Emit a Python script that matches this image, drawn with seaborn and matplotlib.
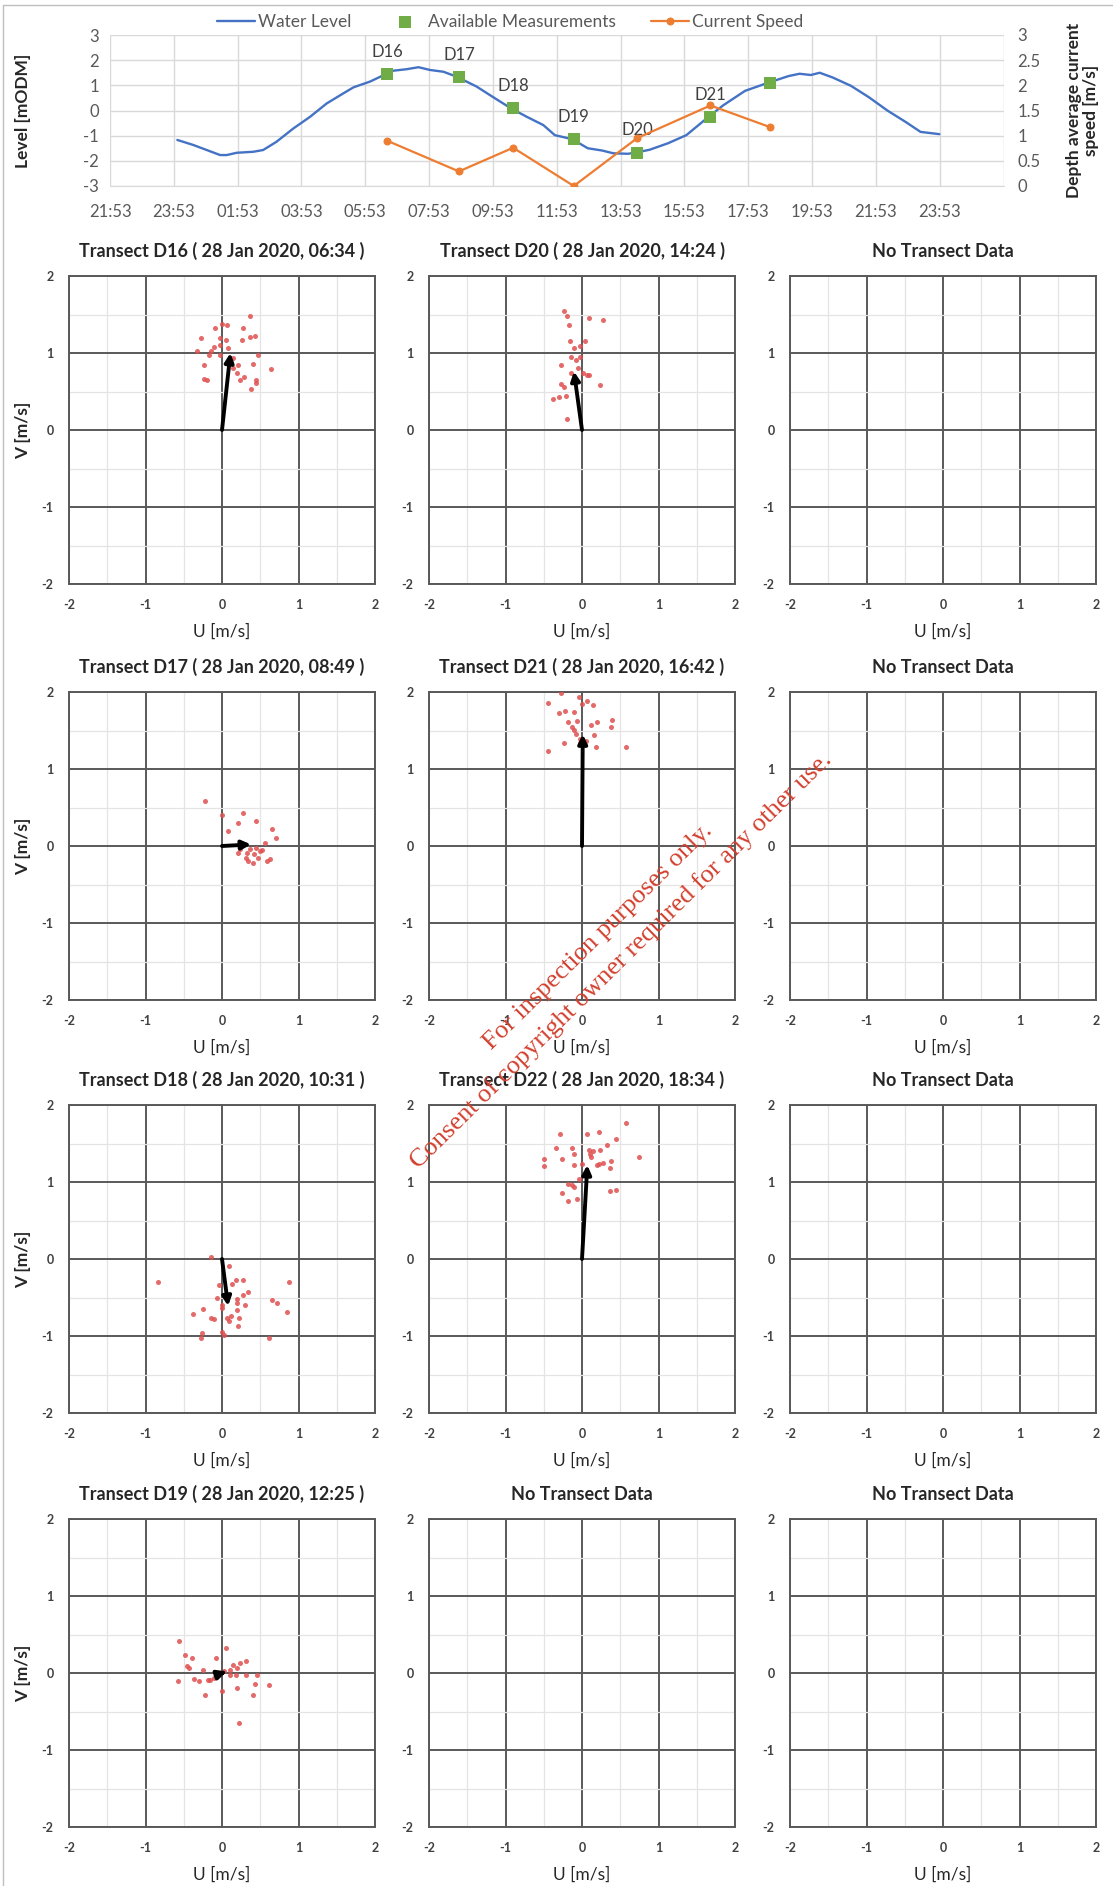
import numpy as np
import pandas as pd
import matplotlib
matplotlib.use("Agg")
import matplotlib.pyplot as plt
import seaborn as sns
from matplotlib.ticker import MultipleLocator, FuncFormatter
from matplotlib.lines import Line2D

# ---- top chart data (hours after 21:53 on 27 Jan 2020) ----
time_labels = ["21:53", "23:53", "01:53", "03:53", "05:53", "07:53", "09:53",
               "11:53", "13:53", "15:53", "17:53", "19:53", "21:53", "23:53"]

wl_hours = [2.11, 2.61, 3.03, 3.45, 3.66, 3.97, 4.49, 4.80, 5.22, 5.75, 6.27, 6.79,
            7.31, 7.63, 8.15, 8.65, 8.87, 9.29, 9.67, 10.03, 10.45, 10.87, 11.49,
            12.02, 12.56, 13.06, 13.58, 13.94, 14.49, 14.97, 15.42, 15.77, 16.23,
            16.48, 16.91, 17.49, 18.06, 18.75, 19.21, 19.90, 20.64, 21.27, 21.61,
            21.96, 22.24, 22.65, 23.22, 23.79, 24.36, 24.94, 25.40, 25.99]
wl_level = [-1.17, -1.37, -1.57, -1.77, -1.77, -1.68, -1.64, -1.57, -1.24, -0.71,
            -0.25, 0.28, 0.68, 0.92, 1.15, 1.45, 1.58, 1.64, 1.72, 1.61, 1.54, 1.34,
            0.95, 0.52, 0.09, -0.25, -0.58, -0.98, -1.14, -1.50, -1.59, -1.70, -1.72,
            -1.67, -1.56, -1.30, -0.98, -0.26, 0.20, 0.78, 1.11, 1.37, 1.46, 1.41,
            1.50, 1.31, 0.98, 0.52, 0.00, -0.46, -0.85, -0.94]

meas_names = ["D16", "D17", "D18", "D19", "D20", "D21", "D22"]
meas_times = ["06:34", "08:49", "10:31", "12:25", "14:24", "16:42", "18:34"]
meas_level = [1.45, 1.34, 0.09, -1.14, -1.67, -0.26, 1.11]
meas_speed = [0.90, 0.29, 0.76, 0.00, 0.95, 1.60, 1.17]
labelled = ["D16", "D17", "D18", "D19", "D20", "D21"]

# ---- transect velocity samples ----
d16_u = [0.365, -0.09, 0.0, 0.07, 0.27, -0.28, -0.03, 0.05, 0.26, 0.37, 0.43, -0.02,
         -0.11, 0.08, -0.33, -0.14, -0.17, -0.02, 0.47, 0.15, -0.23, 0.21, 0.41, 0.14,
         0.64, 0.20, 0.29, 0.23, -0.23, -0.19, 0.45, 0.44, 0.38]
d16_v = [1.48, 1.33, 1.38, 1.36, 1.32, 1.20, 1.19, 1.17, 1.17, 1.21, 1.22, 1.10,
         1.08, 1.07, 1.03, 1.03, 0.98, 0.98, 0.98, 0.93, 0.85, 0.85, 0.86, 0.81,
         0.79, 0.74, 0.69, 0.65, 0.66, 0.65, 0.65, 0.61, 0.53]

d17_u = [-0.22, 0.0, 0.27, 0.21, 0.45, 0.08, 0.66, 0.70, 0.56, 0.24, 0.37, 0.45,
         0.52, 0.21, 0.33, 0.42, 0.50, 0.32, 0.47, 0.34, 0.59, 0.63, 0.40]
d17_v = [0.59, 0.40, 0.43, 0.30, 0.33, 0.19, 0.22, 0.11, 0.04, -0.04, -0.04, -0.02,
         -0.05, -0.09, -0.09, -0.10, -0.07, -0.15, -0.15, -0.19, -0.19, -0.17, -0.22]

d18_u = [-0.15, -0.84, 0.09, 0.18, 0.27, 0.13, -0.04, 0.88, 0.34, 0.28, -0.07, 0.20,
         0.20, 0.66, 0.72, 0.30, 0.0, 0.0, -0.25, 0.20, 0.85, -0.38, 0.12, -0.15,
         -0.11, 0.07, 0.22, 0.09, 0.21, -0.26, 0.0, 0.02, -0.28, 0.62]
d18_v = [0.03, -0.30, -0.09, -0.27, -0.27, -0.32, -0.34, -0.30, -0.43, -0.47, -0.51,
         -0.52, -0.57, -0.53, -0.57, -0.60, -0.60, -0.64, -0.65, -0.66, -0.69, -0.72,
         -0.74, -0.76, -0.78, -0.77, -0.77, -0.80, -0.87, -0.96, -0.95, -0.99, -1.02,
         -1.03]

d19_u = [-0.56, 0.05, -0.48, -0.39, -0.08, 0.32, 0.24, 0.15, -0.46, -0.43, -0.25,
         0.10, 0.19, 0.03, 0.10, 0.18, 0.32, 0.46, -0.05, -0.11, -0.37, -0.16, -0.18,
         -0.30, -0.58, 0.43, 0.61, 0.19, 0.0, -0.22, 0.41, 0.22]
d19_v = [0.41, 0.33, 0.24, 0.19, 0.19, 0.15, 0.13, 0.11, 0.09, 0.07, 0.04, 0.04,
         0.07, 0.03, -0.03, -0.03, -0.02, -0.02, -0.03, -0.06, -0.08, -0.09, -0.09,
         -0.11, -0.11, -0.14, -0.16, -0.19, -0.23, -0.29, -0.28, -0.65]

d20_u = [-0.24, -0.19, 0.09, 0.28, -0.17, -0.16, 0.04, -0.02, -0.11, -0.15, -0.02,
         -0.08, -0.27, -0.05, -0.15, 0.01, 0.07, 0.09, -0.28, 0.23, -0.24, -0.21,
         -0.30, -0.38, -0.19]
d20_v = [1.54, 1.48, 1.45, 1.43, 1.37, 1.16, 1.16, 1.09, 1.06, 0.95, 0.95, 0.91,
         0.85, 0.80, 0.74, 0.74, 0.71, 0.71, 0.60, 0.58, 0.56, 0.44, 0.43, 0.40, 0.14]

d21_u = [-0.28, -0.04, -0.44, 0.07, 0.0, 0.14, -0.30, -0.22, -0.11, -0.18, -0.07,
         0.20, 0.39, 0.12, -0.13, 0.38, -0.10, -0.08, 0.16, -0.02, 0.05, -0.24,
         -0.02, -0.44, 0.18, 0.57]
d21_v = [1.99, 1.93, 1.86, 1.88, 1.84, 1.83, 1.73, 1.75, 1.74, 1.61, 1.62, 1.61,
         1.63, 1.57, 1.55, 1.55, 1.51, 1.46, 1.44, 1.39, 1.37, 1.34, 1.34, 1.23,
         1.29, 1.29]

d22_u = [0.57, -0.29, 0.07, 0.22, 0.45, -0.34, -0.13, 0.33, -0.11, 0.09, 0.15, 0.24,
         0.11, -0.50, -0.26, 0.12, 0.74, 0.38, 0.27, -0.50, -0.10, 0.0, 0.19, 0.22,
         0.36, -0.04, -0.18, -0.13, -0.11, 0.36, 0.44, -0.26, -0.07, -0.18]
d22_v = [1.77, 1.62, 1.62, 1.65, 1.56, 1.44, 1.44, 1.48, 1.37, 1.42, 1.40, 1.41,
         1.36, 1.30, 1.30, 1.32, 1.33, 1.27, 1.25, 1.21, 1.22, 1.23, 1.22, 1.23,
         1.18, 1.04, 0.97, 0.96, 0.93, 0.88, 0.90, 0.86, 0.78, 0.75]

# depth averaged vectors (D16 .. D22)
mean_u = [0.11, 0.38, 0.08, 0.06, -0.105, 0.01, 0.07]
mean_v = [1.00, 0.02, -0.61, 0.02, 0.76, 1.45, 1.22]

samples = {"D16": (d16_u, d16_v), "D17": (d17_u, d17_v), "D18": (d18_u, d18_v),
           "D19": (d19_u, d19_v), "D20": (d20_u, d20_v), "D21": (d21_u, d21_v),
           "D22": (d22_u, d22_v)}

# panel layout: rows x cols, None = no transect
grid_names = [["D16", "D20", None],
              ["D17", "D21", None],
              ["D18", "D22", None],
              ["D19", None, None]]


def to_hours(t):
    h, m = map(int, t.split(":"))
    return ((h * 60 + m) - (21 * 60 + 53)) % 1440 / 60.0


meas_hours = [to_hours(t) for t in meas_times]

sns.set_style("white")
plt.rcParams["font.family"] = ["Lato", "DejaVu Sans"]
plt.rcParams["axes.unicode_minus"] = False

W, H = 1113, 1886
fig = plt.figure(figsize=(W / 100, H / 100), dpi=100)

blue, green, orange = "#4472C4", "#70AD47", "#ED7D31"
tick_gray = "#595959"

# ---------------- top chart ----------------
ax = fig.add_axes([110 / W, 1 - 186 / H, (1003.5 - 110) / W, 151 / H])
sns.lineplot(x=wl_hours, y=wl_level, ax=ax, color=blue, lw=1.7, label="Water Level")
sns.scatterplot(x=meas_hours, y=meas_level, ax=ax, marker="s", color=green, s=70,
                linewidth=0, label="Available Measurements", zorder=5)
for name, h, lv in zip(meas_names, meas_hours, meas_level):
    if name in labelled:
        ax.annotate(name, (h, lv), xytext=(0, 16), textcoords="offset points",
                    ha="center", va="center", fontsize=12, color="#404040")
ax.set_xlim(0, 28)
ax.set_ylim(-3, 3)
ax.set_xticks(range(0, 29, 2))
ax.set_xticklabels(time_labels + [""])
ax.set_yticks(range(-3, 4))
ax.grid(True, color="#d9d9d9", lw=1)
ax.tick_params(axis="y", length=0, labelsize=12, colors=tick_gray, pad=8)
ax.tick_params(axis="x", length=0, labelsize=12, colors=tick_gray, pad=13)
for s in ["top", "left", "right"]:
    ax.spines[s].set_visible(False)
ax.spines["bottom"].set_color("#d9d9d9")
ax.set_ylabel("Level [mODM]", fontsize=12.5, fontweight="bold")
ax.yaxis.set_label_coords((31 - 110) / 893.5, 0.5)

ax2 = ax.twinx()
sns.lineplot(x=meas_hours, y=meas_speed, ax=ax2, color=orange, lw=1.6, marker="o",
             markersize=5, markeredgecolor=orange, label="Current Speed")
ax2.set_ylim(0, 3)
ax2.set_yticks(np.arange(0, 3.01, 0.5))
ax2.yaxis.set_major_formatter(FuncFormatter(lambda v, p: f"{v:g}"))
ax2.tick_params(length=0, labelsize=12, colors=tick_gray, pad=10)
for s in ["top", "left", "right", "bottom"]:
    ax2.spines[s].set_visible(False)
ax2.grid(False)
ax2.set_ylabel("Depth average current\nspeed [m/s]", fontsize=12.5, fontweight="bold",
               linespacing=1.05)
ax2.yaxis.set_label_coords(1 + (1066 - 1003.5) / 893.5, 0.5)

h1, l1 = ax.get_legend_handles_labels()
h2, l2 = ax2.get_legend_handles_labels()
ax.legend_.remove()
ax2.legend_.remove()
fig.legend(h1 + h2, l1 + l2, loc="center", bbox_to_anchor=(510 / W, 1 - 22 / H),
           ncol=3, frameon=False, fontsize=12.5, labelcolor=tick_gray,
           handlelength=2.2, handletextpad=0.2, columnspacing=2.0)

# ---------------- transect panels ----------------
col_left = [69, 429, 790]
row_top = [276, 692, 1105, 1519]
pw, ph = 306, 308
dark = "#595959"

for r, row in enumerate(grid_names):
    for c, name in enumerate(row):
        pax = fig.add_axes([col_left[c] / W, 1 - (row_top[r] + ph) / H, pw / W, ph / H])
        pax.set_xlim(-2, 2)
        pax.set_ylim(-2, 2)
        pax.xaxis.set_major_locator(MultipleLocator(1))
        pax.yaxis.set_major_locator(MultipleLocator(1))
        pax.xaxis.set_minor_locator(MultipleLocator(0.5))
        pax.yaxis.set_minor_locator(MultipleLocator(0.5))
        pax.grid(which="minor", color="#e4e4e4", lw=0.9)
        pax.grid(which="major", color=dark, lw=1.4)
        pax.set_axisbelow(True)
        for s in pax.spines.values():
            s.set_color(dark)
            s.set_linewidth(1.4)
        pax.tick_params(which="major", length=4, color=dark, labelsize=9,
                        labelcolor="#404040", pad=7)
        pax.tick_params(which="minor", length=0)
        for lab in pax.get_xticklabels() + pax.get_yticklabels():
            lab.set_fontweight("bold")

        if name is None:
            title = "No Transect Data"
        else:
            i = meas_names.index(name)
            title = f"Transect {name} ( 28 Jan 2020, {meas_times[i]} )"
            u, v = samples[name]
            df = pd.DataFrame({"u": u, "v": v})
            sns.scatterplot(data=df, x="u", y="v", ax=pax, color="#e05050", s=13,
                            linewidth=0, alpha=0.85, zorder=3)
            pax.annotate("", xy=(mean_u[i], mean_v[i]), xytext=(0, 0),
                         arrowprops=dict(arrowstyle="-|>", color="black", lw=2.8,
                                         mutation_scale=13, shrinkA=0, shrinkB=0),
                         zorder=4)
        pax.set_title(title, fontsize=13, fontweight="bold", pad=14)
        pax.set_xlabel("U [m/s]", fontsize=12.5, labelpad=9)
        if c == 0:
            pax.set_ylabel("V [m/s]", fontsize=12.5, fontweight="bold", labelpad=8)
        else:
            pax.set_ylabel("")

# frame lines
fig.add_artist(Line2D([3 / W, 3 / W], [0, 1 - 5 / H], transform=fig.transFigure,
                      color="#bfbfbf", lw=1))
fig.add_artist(Line2D([3 / W, 1], [1 - 5 / H, 1 - 5 / H], transform=fig.transFigure,
                      color="#bfbfbf", lw=1))

# watermark
wm = dict(rotation=44.6, rotation_mode="anchor", ha="center", va="center",
          color="#d2402e", fontsize=19, family=["Liberation Serif", "DejaVu Serif"])
fig.text(598 / W, 1 - 937 / H, "For inspection purposes only.", **wm)
fig.text(621 / W, 1 - 961 / H, "Consent of copyright owner required for any other use.", **wm)

fig.savefig("out.png", dpi=100)
